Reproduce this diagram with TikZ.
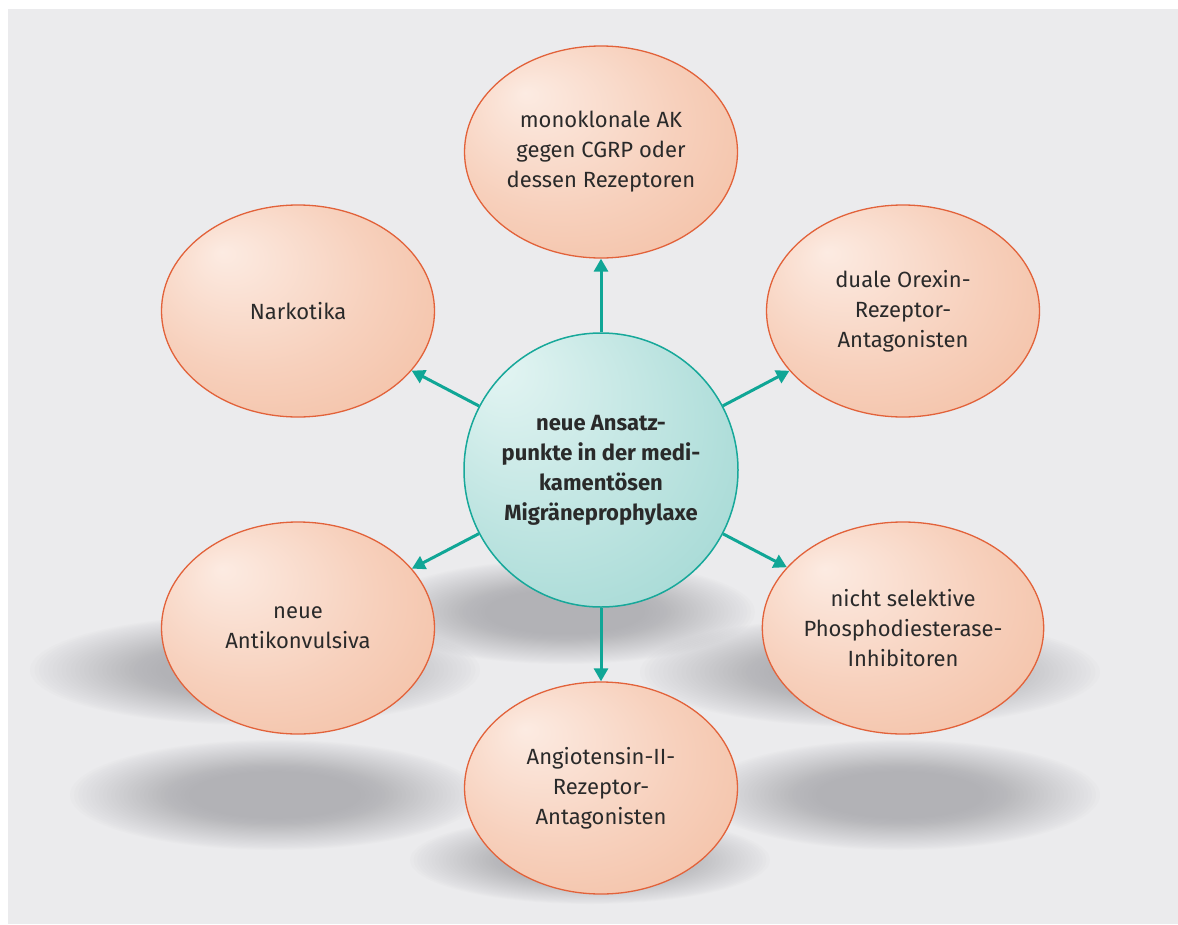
\documentclass[tikz,border=0pt]{standalone}
\usepackage{fontspec}
\setmainfont{Fira Sans}
\usetikzlibrary{shapes.geometric,arrows.meta}

\definecolor{paper}{HTML}{EBEBED}
\definecolor{dropgray}{HTML}{8E8F94}
\definecolor{salmonlight}{HTML}{FCEBE2}
\definecolor{salmonmid}{HTML}{F7D0BC}
\definecolor{salmondark}{HTML}{F0B494}
\definecolor{salmonline}{HTML}{E2623A}
\definecolor{teallight}{HTML}{E4F5F3}
\definecolor{tealdark}{HTML}{90D0CB}
\definecolor{tealline}{HTML}{17A89A}
\definecolor{arrowteal}{HTML}{10A696}
\definecolor{inktext}{HTML}{2A2A2A}

\pgfdeclareradialshading{salmonfill}{\pgfpoint{-14bp}{14bp}}{color(0bp)=(salmonlight); color(22bp)=(salmonmid); color(50bp)=(salmondark)}
\pgfdeclareradialshading{tealfill}{\pgfpoint{-20bp}{20bp}}{color(0bp)=(teallight); color(50bp)=(tealdark)}

\begin{document}
\begin{tikzpicture}[x=1pt, y=-1pt,
	bubble/.style={ellipse, minimum width=273pt, minimum height=212pt, inner sep=0pt,
		shade, shading=salmonfill, draw=salmonline, line width=1.3pt,
		text=inktext, align=center, font=\fontsize{22}{30}\selectfont},
	hub/.style={circle, minimum size=274pt, inner sep=0pt,
		shade, shading=tealfill, draw=tealline, line width=1.5pt,
		text=inktext, align=center, font=\fontsize{22}{30}\selectfont\bfseries},
	link/.style={-{Triangle[width=14pt,length=13pt]}, arrowteal, line width=3pt},
	drop/.style={fill=dropgray, fill opacity=0.023}]

	\useasboundingbox (0,0) rectangle (1178,924);
	\fill[white]	(0,0) rectangle (1178,924);
	\fill[paper]	(8,9) rectangle (1178,924);

	\foreach \cx/\cy/\rx/\ry in {255/670/225/55, 275/795/205/55, 565/612/190/52,
			870/672/230/55, 900/795/200/55, 590/860/180/44}
		\foreach \s in {1.00,0.98,...,0.40}
			\fill[drop]	(\cx,\cy) ellipse ({\s*\rx} and {\s*\ry});

	\node[hub] (core) at (601,470) {neue Ansatz-\\punkte in der medi-\\kamentösen\\Migräneprophylaxe};

	\node[bubble] (cgrp)	at (601,152) {monoklonale AK\\gegen CGRP oder\\dessen Rezeptoren};
	\node[bubble] (nark)	at (298,311) {Narkotika};
	\node[bubble] (orexin)	at (903,311) {duale Orexin-\\Rezeptor-\\Antagonisten};
	\node[bubble] (antik)	at (298,628) {neue\\Antikonvulsiva};
	\node[bubble] (pde)		at (903,628) {nicht selektive\\Phosphodiesterase-\\Inhibitoren};
	\node[bubble] (angio)	at (601,788) {Angiotensin-II-\\Rezeptor-\\Antagonisten};

	\draw[link]	(core) -- (cgrp);
	\draw[link]	(core) -- (nark);
	\draw[link]	(core) -- (orexin);
	\draw[link]	(core) -- (antik);
	\draw[link]	(core) -- (pde);
	\draw[link]	(core) -- (angio);
\end{tikzpicture}
\end{document}
